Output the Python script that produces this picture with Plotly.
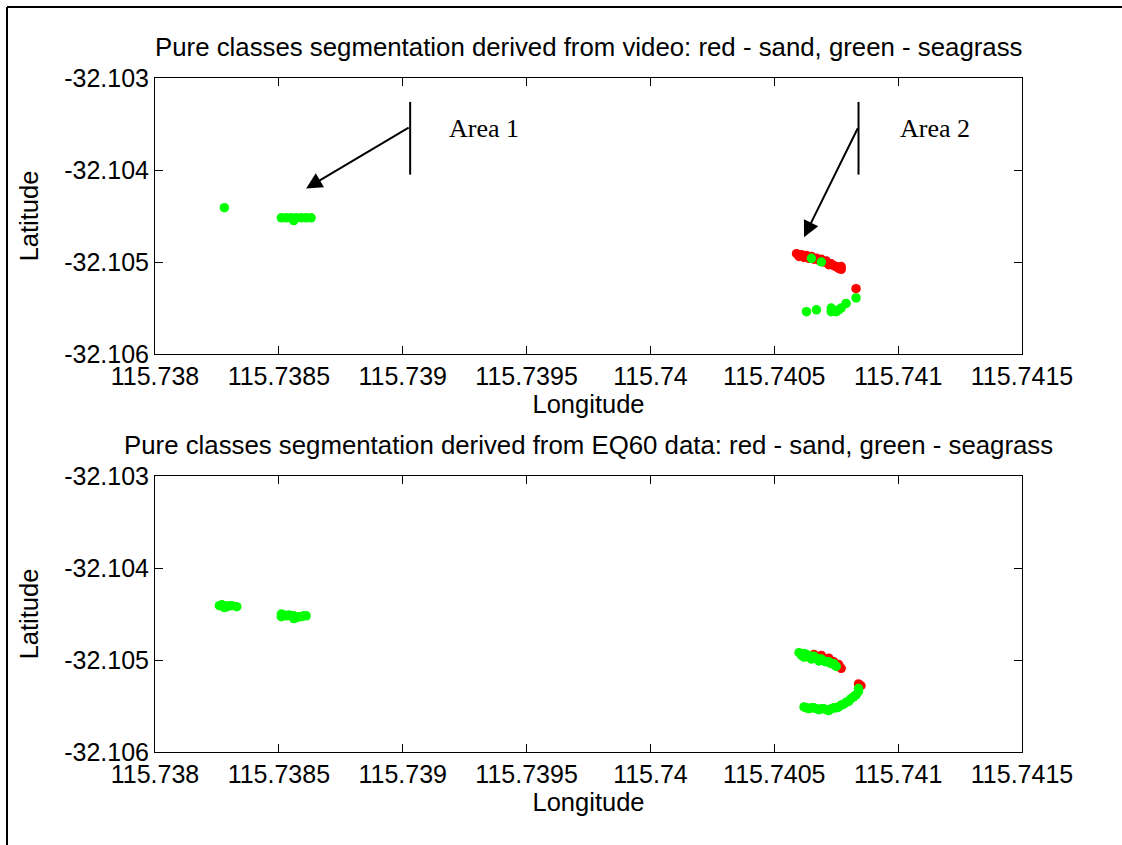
import plotly.graph_objects as go

# Longitude / latitude of classified points (video segmentation)
video_sand_lon = [115.74059, 115.74060, 115.74061, 115.74062, 115.74063, 115.74064,
                  115.74065, 115.74066, 115.74067, 115.74068, 115.74069, 115.74070,
                  115.74071, 115.74072, 115.74073, 115.74074, 115.74075, 115.74076,
                  115.74077, 115.74077, 115.74083]
video_sand_lat = [-32.10491, -32.10494, -32.10492, -32.10495, -32.10493, -32.10496,
                  -32.10494, -32.10497, -32.10496, -32.10498, -32.10497, -32.10500,
                  -32.10499, -32.10503, -32.10502, -32.10504, -32.10505, -32.10507,
                  -32.10505, -32.10508, -32.10529]
video_grass_lon = [115.73828, 115.73851, 115.73853, 115.73855, 115.73857, 115.73859,
                   115.73861, 115.73863, 115.73856,
                   115.74065, 115.74069, 115.74083, 115.74063, 115.74067,
                   115.74073, 115.74073, 115.74075, 115.74076, 115.74077, 115.74079]
video_grass_lat = [-32.10441, -32.10452, -32.10452, -32.10452, -32.10452, -32.10452,
                   -32.10452, -32.10452, -32.10455,
                   -32.10496, -32.10500, -32.10539, -32.10554, -32.10552,
                   -32.10550, -32.10554, -32.10554, -32.10552, -32.10550, -32.10545]

# Longitude / latitude of classified points (EQ60 segmentation)
eq60_sand_lon = [115.74066, 115.74069, 115.74072, 115.74074, 115.74076, 115.74077,
                 115.74084, 115.74085]
eq60_sand_lat = [-32.10494, -32.10495, -32.10498, -32.10502, -32.10505, -32.10509,
                 -32.10526, -32.10528]
eq60_grass_lon = [115.73826, 115.73827, 115.73828, 115.73829, 115.73830, 115.73831,
                  115.73833, 115.73828,
                  115.73851, 115.73852, 115.73853, 115.73854, 115.73855, 115.73856,
                  115.73857, 115.73858, 115.73859, 115.73860, 115.73861, 115.73851,
                  115.73856,
                  115.74060, 115.74061, 115.74062, 115.74063, 115.74064, 115.74065,
                  115.74066, 115.74067, 115.74068, 115.74069, 115.74070, 115.74071,
                  115.74072, 115.74073, 115.74074, 115.74075, 115.74062, 115.74065,
                  115.74068,
                  115.74062, 115.74063, 115.74064, 115.74065, 115.74066, 115.74067,
                  115.74068, 115.74069, 115.74070, 115.74071, 115.74072, 115.74073,
                  115.74074, 115.74075, 115.74076, 115.74077, 115.74078, 115.74079,
                  115.74080, 115.74081, 115.74082, 115.74083, 115.74084, 115.74084,
                  115.74072]
eq60_grass_lat = [-32.10441, -32.10440, -32.10441, -32.10442, -32.10441, -32.10441,
                  -32.10442, -32.10443,
                  -32.10450, -32.10451, -32.10452, -32.10451, -32.10452, -32.10452,
                  -32.10454, -32.10453, -32.10453, -32.10452, -32.10452, -32.10453,
                  -32.10455,
                  -32.10492, -32.10495, -32.10493, -32.10494, -32.10497, -32.10496,
                  -32.10496, -32.10498, -32.10499, -32.10499, -32.10501, -32.10502,
                  -32.10502, -32.10504, -32.10504, -32.10507, -32.10497, -32.10499,
                  -32.10501,
                  -32.10551, -32.10552, -32.10553, -32.10552, -32.10552, -32.10553,
                  -32.10554, -32.10553, -32.10553, -32.10554, -32.10554, -32.10553,
                  -32.10552, -32.10552, -32.10551, -32.10549, -32.10548, -32.10546,
                  -32.10545, -32.10542, -32.10540, -32.10538, -32.10534, -32.10531,
                  -32.10555]

x_ticks = [115.738, 115.7385, 115.739, 115.7395, 115.74, 115.7405, 115.741, 115.7415]
x_tick_text = ["115.738", "115.7385", "115.739", "115.7395", "115.74", "115.7405", "115.741", "115.7415"]
y_ticks = [-32.106, -32.105, -32.104, -32.103]
y_tick_text = ["-32.106", "-32.105", "-32.104", "-32.103"]

titles = ["Pure classes segmentation derived from video: red - sand, green - seagrass",
          "Pure classes segmentation derived from EQ60 data: red - sand, green - seagrass"]

RED = "#ff0000"
GREEN = "#00ff00"
FONT = "Liberation Sans, Arial, sans-serif"
SERIF = "Liberation Serif, Times New Roman, serif"
W, H = 1122, 845
TICK_SIZE = 25
LABEL_SIZE = 25.5
TITLE_SIZE = 25.8

fig = go.Figure()
mk = dict(size=9.5, line=dict(width=0))
fig.add_trace(go.Scatter(x=video_sand_lon, y=video_sand_lat, mode="markers",
                         marker=dict(color=RED, **mk), xaxis="x", yaxis="y"))
fig.add_trace(go.Scatter(x=video_grass_lon, y=video_grass_lat, mode="markers",
                         marker=dict(color=GREEN, **mk), xaxis="x", yaxis="y"))
fig.add_trace(go.Scatter(x=eq60_sand_lon, y=eq60_sand_lat, mode="markers",
                         marker=dict(color=RED, **mk), xaxis="x2", yaxis="y2"))
fig.add_trace(go.Scatter(x=eq60_grass_lon, y=eq60_grass_lat, mode="markers",
                         marker=dict(color=GREEN, **mk), xaxis="x2", yaxis="y2"))

xdom = [155 / W, 1022 / W]
top_dom = [1 - 354 / H, 1 - 78 / H]
bot_dom = [1 - 752 / H, 1 - 476 / H]

def xax(anchor):
    return dict(domain=xdom, range=[115.738, 115.7415], anchor=anchor, automargin=False,
                tickvals=x_ticks, ticktext=x_tick_text, ticks="inside", ticklen=8,
                tickcolor="black", showline=True, linecolor="black", linewidth=1,
                mirror="ticks", showgrid=False, zeroline=False,
                tickfont=dict(family=FONT, size=TICK_SIZE, color="black"),
                title=dict(text="Longitude", font=dict(family=FONT, size=LABEL_SIZE, color="black"),
                           standoff=4))

def yax(anchor, dom):
    return dict(domain=dom, range=[-32.106, -32.103], anchor=anchor, automargin=False,
                tickvals=y_ticks, ticktext=y_tick_text, ticks="inside", ticklen=8,
                tickcolor="black", showline=True, linecolor="black", linewidth=1,
                mirror="ticks", showgrid=False, zeroline=False,
                tickfont=dict(family=FONT, size=TICK_SIZE, color="black"),
                title=dict(text="Latitude", font=dict(family=FONT, size=LABEL_SIZE, color="black"),
                           standoff=18))

annotations = [
    dict(text=titles[0], xref="paper", yref="paper", x=(xdom[0] + xdom[1]) / 2,
         y=1 - 47 / H, showarrow=False, font=dict(family=FONT, size=TITLE_SIZE, color="black"),
         xanchor="center", yanchor="middle"),
    dict(text=titles[1], xref="paper", yref="paper", x=(xdom[0] + xdom[1]) / 2,
         y=1 - 445 / H, showarrow=False, font=dict(family=FONT, size=TITLE_SIZE, color="black"),
         xanchor="center", yanchor="middle"),
    # Area labels with leader arrows
    dict(text="Area 1", xref="x", yref="y", x=115.73918, y=-32.10355, showarrow=False,
         xanchor="left", yanchor="middle", font=dict(family=SERIF, size=26, color="black")),
    dict(text="Area 2", xref="x", yref="y", x=115.74100, y=-32.10355, showarrow=False,
         xanchor="left", yanchor="middle", font=dict(family=SERIF, size=26, color="black")),
    dict(text="", xref="x", yref="y", axref="x", ayref="y",
         x=115.73861, y=-32.10420, ax=115.73903, ay=-32.10353,
         showarrow=True, arrowhead=2, arrowsize=1.6, arrowwidth=2, arrowcolor="black"),
    dict(text="", xref="x", yref="y", axref="x", ayref="y",
         x=115.74062, y=-32.10473, ax=115.74084, ay=-32.10353,
         showarrow=True, arrowhead=2, arrowsize=1.6, arrowwidth=2, arrowcolor="black"),
]

shapes = [
    dict(type="line", xref="x", yref="y", x0=115.73903, x1=115.73903,
         y0=-32.10326, y1=-32.10405, line=dict(color="black", width=2)),
    dict(type="line", xref="x", yref="y", x0=115.74084, x1=115.74084,
         y0=-32.10326, y1=-32.10405, line=dict(color="black", width=2)),
    # outer figure frame
    dict(type="line", xref="paper", yref="paper", x0=7 / W, x1=1.0, y0=1 - 7 / H, y1=1 - 7 / H,
         line=dict(color="black", width=2)),
    dict(type="line", xref="paper", yref="paper", x0=7 / W, x1=7 / W, y0=0.0, y1=1 - 7 / H,
         line=dict(color="black", width=2)),
]

fig.update_layout(
    width=W, height=H, margin=dict(l=0, r=0, t=0, b=0, autoexpand=False),
    paper_bgcolor="white", plot_bgcolor="white", showlegend=False,
    xaxis=xax("y"), yaxis=yax("x", top_dom),
    xaxis2=xax("y2"), yaxis2=yax("x2", bot_dom),
    annotations=annotations, shapes=shapes,
)

fig.write_html("out.html")
